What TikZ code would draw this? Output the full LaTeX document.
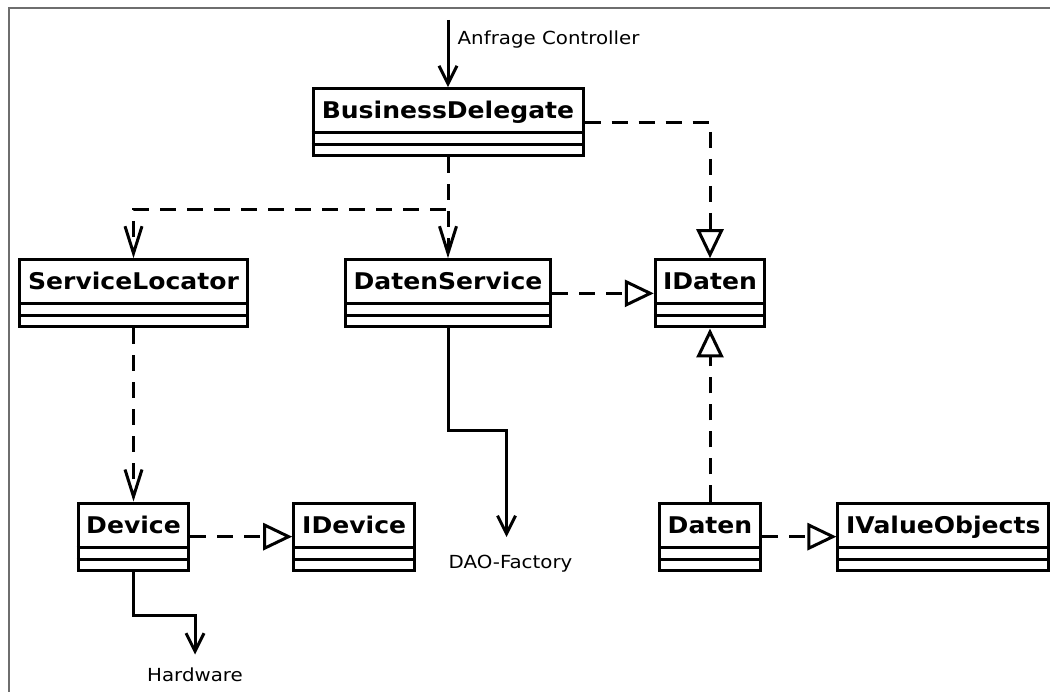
\documentclass[tikz,border=0pt]{standalone}
\usepackage{fontspec}
\setmainfont{DejaVu Sans}
\newfontfamily\classfont[FakeStretch=1.09]{DejaVu Sans}
\newfontfamily\labelfont[FakeStretch=1.1]{DejaVu Sans}
\usetikzlibrary{arrows.meta}

\definecolor{framegray}{RGB}{110,110,110}

\tikzset{
  classbox/.style={draw, line width=3pt, rectangle, inner sep=0pt,
    minimum height=67.3pt, anchor=north, fill=white},
  classname/.style={font=\classfont\bfseries\fontsize{23}{27}\selectfont,
    anchor=base, inner sep=0pt},
  sepline/.style={line width=3pt},
  note/.style={font=\labelfont\fontsize{18}{21}\selectfont, inner sep=0pt},
  dep/.style={line width=3pt, dash pattern=on 16pt off 11pt,
    -{Straight Barb[length=27pt,width=17pt]}},
  realize/.style={line width=3pt, dash pattern=on 16pt off 11pt,
    -{Triangle[open,length=29pt,width=27pt]}},
  call/.style={line width=3pt, -{Straight Barb[length=18pt,width=18pt]}},
}

% UML class box: name, centre x, width, top y, title
\newcommand\umlclass[5]{%
  \node[classbox, minimum width=#3pt] (#1) at (#2,#4) {};
  \node[classname] (#1-title) at (#2,#4+31.5) {#5};
  \draw[sepline] ([yshift=-45.5pt]#1.north west) -- ([yshift=-45.5pt]#1.north east);
  \draw[sepline] ([yshift=-57.8pt]#1.north west) -- ([yshift=-57.8pt]#1.north east);
}

\begin{document}
\begin{tikzpicture}[x=1pt,y=-1pt]
  \useasboundingbox (0,0) rectangle (1050,692);

  % frame
  \draw[line width=2pt, framegray] (8.5,692) -- (8.5,8.5) -- (1050,8.5);

  % classes
  \umlclass{bd}{448}{270}{87.2}{BusinessDelegate}
  \umlclass{sl}{133.5}{228}{258.2}{ServiceLocator}
  \umlclass{ds}{448}{205}{258.2}{DatenService}
  \umlclass{idaten}{710}{109.4}{258.2}{IDaten}
  \umlclass{device}{133.5}{110.7}{501.5}{Device}
  \umlclass{idevice}{354.2}{121}{501.5}{IDevice}
  \umlclass{daten}{710}{101}{501.5}{Daten}
  \umlclass{ivo}{943.3}{210.7}{501.5}{IValueObjects}

  % incoming request
  \coordinate (entry) at (448,20);
  \draw[call] (entry) -- (bd.north);
  \node[note, anchor=base west] (req) at (457.5,45) {Anfrage Controller};

  % dependencies
  \coordinate (fork) at (448,209.3);
  \draw[dep] (bd.south) -- (ds.north);
  \draw[dep] (bd.south) -- (fork) -| (sl.north);
  \draw[dep] (sl.south) -- (device.north);

  % realizations
  \draw[realize] (bd.east) -| (idaten.north);
  \draw[realize] (ds.east) -- (idaten.west);
  \draw[realize] (daten.north) -- (idaten.south);
  \draw[realize] (device.east) -- (idevice.west);
  \draw[realize] (daten.east) -- (ivo.west);

  % outgoing calls
  \coordinate (daobend) at (506.5,430.5);
  \coordinate (daoend) at (506.5,537);
  \draw[call] (ds.south) |- (daobend) -- (daoend);
  \node[note, anchor=base] (dao) at (510.5,568) {DAO-Factory};

  \coordinate (hwbend) at (195,615.7);
  \coordinate (hwend) at (195,654.5);
  \draw[call] (device.south) |- (hwbend) -- (hwend);
  \node[note, anchor=base] (hw) at (195,681) {Hardware};
\end{tikzpicture}
\end{document}
